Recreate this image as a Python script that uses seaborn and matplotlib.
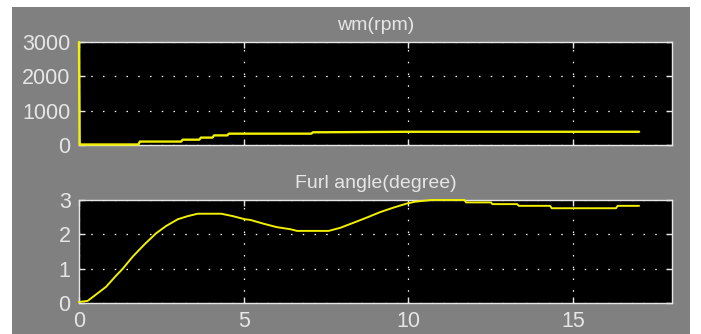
import matplotlib
matplotlib.use("Agg")
import matplotlib.pyplot as plt
import seaborn as sns
from matplotlib.patches import Rectangle

# ------------------------------------
# Data
# ------------------------------------
t_wm = [0, 0.02, 1.8, 1.85, 3.1, 3.15, 3.65, 3.7, 4.05, 4.1, 4.5, 4.55,
        7.05, 7.1, 10.0, 17.0]
wm_rpm = [3000, 15, 15, 100, 100, 155, 155, 215, 215, 280, 280, 330,
          330, 370, 385, 385]

t_furl = [0, 0.26, 0.52, 0.82, 1.12, 1.33, 1.63, 1.99, 2.34, 2.64, 3.0,
          3.3, 3.6, 4.32, 4.67, 5.03, 5.2, 5.6, 6.0, 6.41, 6.62, 7.58,
          7.93, 8.34, 8.74, 9.15, 9.55, 9.96, 10.2, 10.7, 11.7, 11.75,
          12.5, 12.55, 13.3, 13.35, 14.3, 14.35, 16.3, 16.35, 17.0]
furl_deg = [0.03, 0.06, 0.25, 0.47, 0.79, 1.0, 1.35, 1.71, 2.03, 2.24,
            2.44, 2.53, 2.6, 2.6, 2.53, 2.44, 2.42, 2.31, 2.21, 2.15, 2.1,
            2.1, 2.19, 2.34, 2.49, 2.65, 2.78, 2.9, 2.95, 3.0, 3.0, 2.93,
            2.93, 2.88, 2.88, 2.83, 2.83, 2.76, 2.76, 2.83, 2.83]

titles = ["wm(rpm)", "Furl angle(degree)"]
x_ticks = [0, 5, 10, 15]
wm_ticks = [0, 1000, 2000, 3000]
furl_ticks = [0, 1, 2, 3]

# ------------------------------------
# Style
# ------------------------------------
sns.set_style("dark")
plt.rcParams["font.family"] = ["Liberation Sans", "DejaVu Sans"]

fg = "#e6e6e6"
line_col = "#f0f000"
grid_kw = dict(color="white", linewidth=0.9, linestyle=(0, (1.2, 8.2)))

fig = plt.figure(figsize=(7.01, 3.34), dpi=100, facecolor="white")
fig.patches.append(Rectangle((12 / 701, 0), (690 - 12) / 701, 1 - 7 / 334,
                             transform=fig.transFigure, facecolor="#808080",
                             edgecolor="none", zorder=-5))

ax1 = fig.add_axes([79 / 701, 1 - 145 / 334, 593 / 701, 103 / 334])
ax2 = fig.add_axes([79 / 701, 1 - 303 / 334, 593 / 701, 103 / 334])

panels = [
    (ax1, t_wm, wm_rpm, wm_ticks, titles[0], 1.7),
    (ax2, t_furl, furl_deg, furl_ticks, titles[1], 1.4),
]

for ax, x, y, yt, title, lw in panels:
    ax.set_facecolor("black")
    sns.lineplot(x=x, y=y, ax=ax, color=line_col, linewidth=lw,
                 estimator=None, sort=False, clip_on=False, zorder=3)
    ax.set_xlim(0, 18)
    ax.set_ylim(yt[0], yt[-1])
    ax.set_xticks(x_ticks)
    ax.set_yticks(yt)
    ax.grid(True, **grid_kw)
    for s in ax.spines.values():
        s.set_visible(True)
        s.set_color(fg)
        s.set_linewidth(1.0)
    ax.tick_params(direction="in", length=4, width=1, color=fg,
                   top=True, right=True, bottom=True, left=True,
                   labelsize=15.5, labelcolor=fg, pad=6)
    ax.set_title(title, color=fg, fontsize=14, pad=9)
    ax.set_xlabel("")
    ax.set_ylabel("")

ax1.tick_params(labelbottom=False)

plt.savefig("out.png", dpi=100, facecolor=fig.get_facecolor())
plt.close()
